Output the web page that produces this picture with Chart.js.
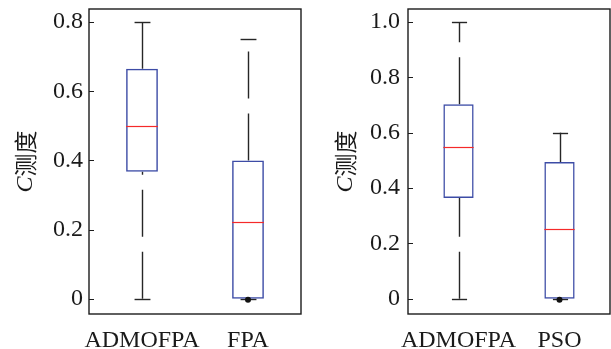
<!DOCTYPE html>
<html>
<head>
<meta charset="utf-8">
<script src="https://cdn.jsdelivr.net/npm/chart.js@4.4.1/dist/chart.umd.min.js"></script>
<style>
  html, body { margin: 0; padding: 0; background: #fff; }
  #wrap { position: relative; width: 611px; height: 349px; }
  canvas { position: absolute; left: 0; top: 0; }
</style>
</head>
<body>
<div id="wrap">
  <canvas id="leftChart" width="611" height="349"></canvas>
  <canvas id="rightChart" width="611" height="349"></canvas>
</div>
<script>
// left panel: ADMOFPA vs FPA
const leftCategories = ["ADMOFPA", "FPA"];
const leftMin = [0, 0];
const leftQ1 = [0.367, 0];
const leftMedian = [0.5, 0.223];
const leftQ3 = [0.665, 0.4];
const leftMax = [0.8, 0.75];
const leftOutliers = [[], [0]];
const leftTicks = [0, 0.2, 0.4, 0.6, 0.8];

// right panel: ADMOFPA vs PSO
const rightCategories = ["ADMOFPA", "PSO"];
const rightMin = [0, 0];
const rightQ1 = [0.364, 0];
const rightMedian = [0.549, 0.253];
const rightQ3 = [0.703, 0.494];
const rightMax = [1.0, 0.6];
const rightOutliers = [[], [0]];
const rightTicks = [0, 0.2, 0.4, 0.6, 0.8, 1.0];

const yTitleItalic = "C";
const yTitleRest = "测度";

const serif = '"Liberation Serif", "Times New Roman", serif';
const boxBlue = "#3d4ca6";
const medianRed = "#f52a2a";
const whiskerColor = "#262626";
const frameColor = "#1c1c1c";

const boxplotPlugin = {
    id: "boxplot",
    beforeDatasetsDraw(chart, args, opts) {
        const ctx = chart.ctx;
        const y = chart.scales.y;
        const bars = chart.getDatasetMeta(0).data;
        ctx.save();
        ctx.strokeStyle = whiskerColor;
        ctx.lineWidth = 1.4;
        bars.forEach((bar, i) => {
            const x = Math.round(bar.x) + 0.5;
            const capHalf = bar.width / 4;
            // dashed whiskers (lower drawn upward from the end, upper upward from the box)
            ctx.setLineDash([47, 15]);
            if (opts.min[i] < opts.q1[i]) {
                ctx.beginPath();
                ctx.moveTo(x, y.getPixelForValue(opts.min[i]));
                ctx.lineTo(x, y.getPixelForValue(opts.q1[i]));
                ctx.stroke();
            }
            ctx.beginPath();
            ctx.moveTo(x, y.getPixelForValue(opts.q3[i]));
            ctx.lineTo(x, y.getPixelForValue(opts.max[i]));
            ctx.stroke();
            ctx.setLineDash([]);
            [opts.min[i], opts.max[i]].forEach(v => {
                const py = Math.round(y.getPixelForValue(v)) + 0.5;
                ctx.beginPath();
                ctx.moveTo(x - capHalf, py);
                ctx.lineTo(x + capHalf, py);
                ctx.stroke();
            });
        });
        ctx.restore();
    },
    afterDatasetsDraw(chart, args, opts) {
        const ctx = chart.ctx;
        const y = chart.scales.y;
        const area = chart.chartArea;
        const bars = chart.getDatasetMeta(0).data;
        ctx.save();
        bars.forEach((bar, i) => {
            const py = Math.round(y.getPixelForValue(opts.median[i])) + 0.5;
            ctx.strokeStyle = medianRed;
            ctx.lineWidth = 1.2;
            ctx.beginPath();
            ctx.moveTo(bar.x - bar.width / 2, py);
            ctx.lineTo(bar.x + bar.width / 2, py);
            ctx.stroke();
            ctx.fillStyle = "#111";
            opts.outliers[i].forEach(v => {
                ctx.beginPath();
                ctx.arc(bar.x, y.getPixelForValue(v) + 1, 3, 0, Math.PI * 2);
                ctx.fill();
            });
        });
        // frame
        ctx.strokeStyle = frameColor;
        ctx.lineWidth = 1.4;
        ctx.strokeRect(area.left, area.top, area.right - area.left, area.bottom - area.top);
        // inward ticks on the y axis
        ctx.lineWidth = 1;
        y.ticks.forEach(t => {
            const py = Math.round(y.getPixelForValue(t.value)) + 0.5;
            ctx.beginPath();
            ctx.moveTo(area.left, py);
            ctx.lineTo(area.left + 5, py);
            ctx.stroke();
        });
        // y title: italic C followed by 测度, rotated
        ctx.translate(opts.titleX, (area.top + area.bottom) / 2);
        ctx.rotate(-Math.PI / 2);
        ctx.fillStyle = "#1a1a1a";
        ctx.textBaseline = "middle";
        const fItalic = "italic 24px " + serif;
        const fRest = '23px "Noto Sans CJK SC", sans-serif';
        ctx.font = fItalic;
        const w1 = ctx.measureText(yTitleItalic).width;
        ctx.font = fRest;
        const w2 = ctx.measureText(yTitleRest).width;
        let sx = -(w1 + w2) / 2;
        ctx.font = fItalic;
        ctx.fillText(yTitleItalic, sx, 1);
        ctx.font = fRest;
        ctx.fillText(yTitleRest, sx + w1, 0);
        ctx.restore();
    }
};

function makeChart(id, cats, mins, q1s, meds, q3s, maxs, outs, tickVals, yMin, yMax, pad, axisWidth, labelPad, titleX) {
    const ctx = document.getElementById(id).getContext("2d");
    return new Chart(ctx, {
        type: "bar",
        data: {
            labels: cats,
            datasets: [{
                data: q1s.map((q, i) => [q, q3s[i]]),
                backgroundColor: "rgba(255,255,255,0)",
                borderColor: boxBlue,
                borderWidth: 1.5,
                borderSkipped: false,
                barPercentage: 0.3,
                categoryPercentage: 1
            }]
        },
        options: {
            responsive: false,
            animation: false,
            layout: { padding: pad },
            plugins: {
                legend: { display: false },
                tooltip: { enabled: false },
                boxplot: { min: mins, q1: q1s, median: meds, q3: q3s, max: maxs, outliers: outs, titleX: titleX }
            },
            scales: {
                x: {
                    grid: { display: false, drawTicks: false },
                    border: { display: false },
                    ticks: {
                        color: "#1a1a1a",
                        font: { family: serif, size: 24 },
                        padding: 12,
                        maxRotation: 0,
                        autoSkip: false
                    },
                    afterFit: s => { s.height = 35; s.paddingLeft = 0; s.paddingRight = 0; }
                },
                y: {
                    min: yMin,
                    max: yMax,
                    grid: { display: false, drawTicks: false },
                    border: { display: false },
                    afterBuildTicks: s => { s.ticks = tickVals.map(v => ({ value: v })); },
                    ticks: {
                        color: "#1a1a1a",
                        font: { family: serif, size: 24 },
                        padding: labelPad,
                        callback: v => v === 0 ? "0" : Number(v).toFixed(1)
                    },
                    afterFit: s => { s.width = axisWidth; s.paddingTop = 0; s.paddingBottom = 0; }
                }
            }
        },
        plugins: [boxplotPlugin]
    });
}

makeChart("leftChart", leftCategories, leftMin, leftQ1, leftMedian, leftQ3, leftMax, leftOutliers, leftTicks,
    -0.0442, 0.8378, { left: 0, top: 9, right: 310, bottom: 0 }, 89, 6, 25);
makeChart("rightChart", rightCategories, rightMin, rightQ1, rightMedian, rightQ3, rightMax, rightOutliers, rightTicks,
    -0.0553, 1.047, { left: 305, top: 9, right: 1, bottom: 0 }, 103, 8, 345);
</script>
</body>
</html>
